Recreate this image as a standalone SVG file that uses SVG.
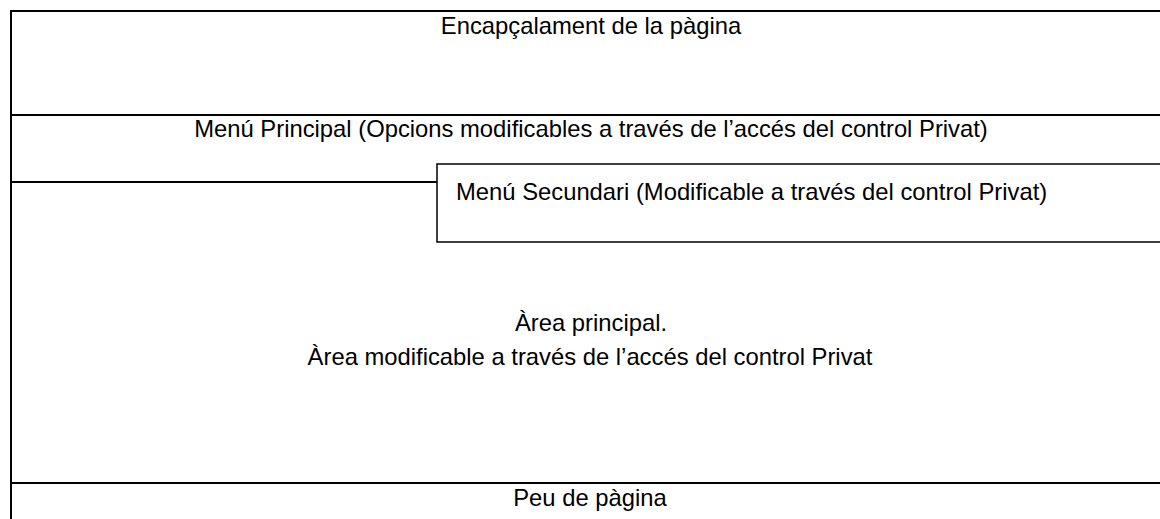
<svg xmlns="http://www.w3.org/2000/svg" width="1160" height="519" viewBox="0 0 1160 519">
<style>
.ln{stroke:#000;stroke-width:2;fill:none}
.bx{stroke:#000;stroke-width:1.5;fill:#fff}
text{font-family:"Liberation Sans",Arial,sans-serif;font-size:23.8px;fill:#000}
.c{text-anchor:middle}
</style>
<rect width="1160" height="519" fill="#fff"/>
<g id="frame">
<path class="ln" d="M11,519 V11 H1160"/>
</g>
<g id="header">
<text class="c" x="591" y="34">Encapçalament de la pàgina</text>
</g>
<g id="main-menu">
<line class="ln" x1="11" y1="115" x2="1160" y2="115"/>
<text class="c" x="591" y="137">Menú Principal (Opcions modificables a través de l’accés del control Privat)</text>
</g>
<g id="main-area">
<line class="ln" x1="11" y1="182" x2="437" y2="182"/>
<text class="c" x="591" y="331">Àrea principal.</text>
<text class="c" x="590" y="365">Àrea modificable a través de l’accés del control Privat</text>
</g>
<g id="secondary-menu">
<path class="bx" d="M1162,164 H437 V242 H1162"/>
<text x="456" y="200">Menú Secundari (Modificable a través del control Privat)</text>
</g>
<g id="footer">
<line class="ln" x1="11" y1="483" x2="1160" y2="483"/>
<text class="c" x="590" y="506">Peu de pàgina</text>
</g>
</svg>
